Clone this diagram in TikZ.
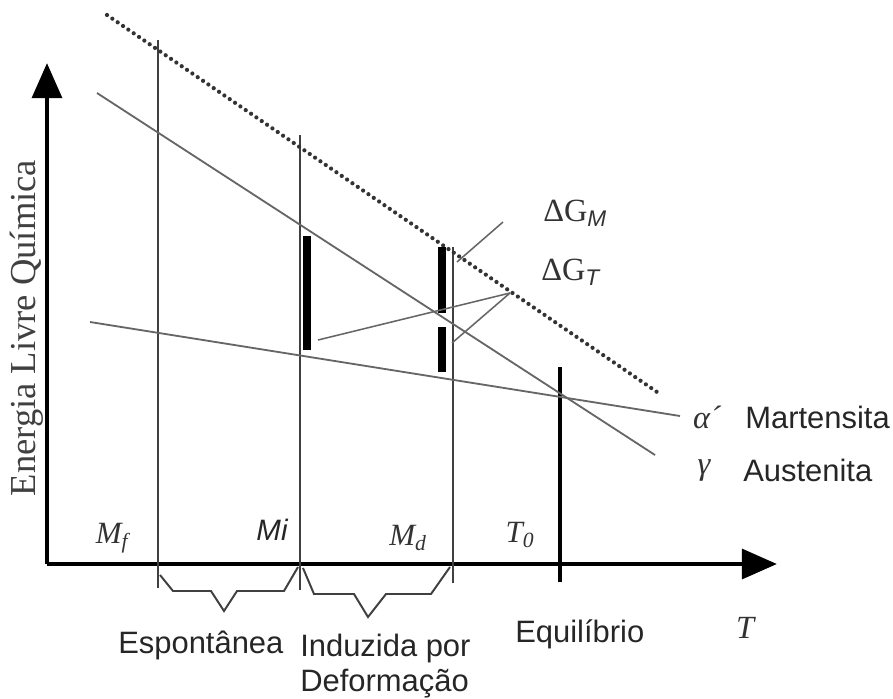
\documentclass[tikz,border=0pt]{standalone}
\usepackage{fontspec}
\setmainfont{Liberation Serif}
\setsansfont{Liberation Sans}
\usetikzlibrary{arrows.meta}

\begin{document}
\begin{tikzpicture}[
  x=0.025cm, y=-0.025cm,
  axis/.style={line width=3.5pt, -{Triangle[length=25pt, width=21pt]}},
  guide/.style={line width=1.8pt, black!75},
  phase/.style={line width=1.3pt, black!60},
  dotline/.style={line width=3pt, black!80, line cap=round, dash pattern=on 0pt off 4.6pt},
  bar/.style={line width=5pt},
  lead/.style={line width=1.1pt, black!60},
  brace/.style={line width=1.4pt, black!75},
  word/.style={font=\sffamily\fontsize{22}{25}\selectfont, inner sep=0pt, text=black!85},
  temp/.style={font=\fontsize{22}{25}\selectfont\itshape, inner sep=0pt, text=black!80},
  dg/.style={font=\fontsize{23}{26}\selectfont, anchor=west, inner sep=0pt, text=black!80}
]
\useasboundingbox (0,0) rectangle (893,698);

% axes
\coordinate (O) at (47,564);
\coordinate (ytop) at (47,63);
\coordinate (xend) at (777,564);
\draw[axis] (O) -- (ytop);
\draw[axis] (O) -- (xend);
\node[rotate=90, font=\fontsize{26}{30}\selectfont, inner sep=0pt, text=black!75] (elabel) at (27,328) {Energia Livre Química};
\node[temp, font=\fontsize{23}{26}\selectfont\itshape] (tlabel) at (745,628) {T};

% temperatures
\draw[guide] (158,40) -- (158,588);
\draw[guide] (300,135) -- (300,590);
\draw[guide] (453,247) -- (453,583);
\draw[line width=3pt] (560,367) -- (560,582);

\node[temp] (mf) at (112,538) {M\textsubscript{f}};
\node[font=\sffamily\itshape\fontsize{21}{24}\selectfont, inner sep=0pt, text=black!85] (mi) at (272,530) {Mi};
\node[temp] (md) at (408,538) {M\textsubscript{d}};
\node[temp] (t0) at (520,535) {T\textsubscript{0}};

% free energy lines
\draw[dotline] (107,15) -- (657,392);
\draw[phase] (97,93) -- (655,455);
\draw[phase] (90,322) -- (680,416);

\node[font=\fontsize{23}{26}\selectfont\itshape, inner sep=0pt, text=black!80] (alpha) at (707,417) {α´};
\node[word, anchor=west] (mart) at (745,417) {Martensita};
\node[font=\fontsize{23}{26}\selectfont\itshape, inner sep=0pt, text=black!80] (gamma) at (704,471) {γ};
\node[word, anchor=west] (aust) at (743,470) {Austenita};

% driving forces
\draw[bar] (307,236) -- (307,350);
\draw[bar] (442,247) -- (442,313);
\draw[bar] (442,327) -- (442,372);

\node[dg] (dgm) at (543,213) {ΔG\textsubscript{\sffamily\itshape M}};
\node[dg] (dgt) at (541,272) {ΔG\textsubscript{\sffamily\itshape T}};
\draw[lead] (503,222) -- (457,262);
\draw[lead] (510,293) -- (318,340);
\draw[lead] (510,293) -- (452,343);

% ranges
\draw[brace] (160,575) -- (173,591) -- (211,591) -- (224,611) -- (237,591) -- (284,591) -- (298,567);
\draw[brace] (303,568) -- (314,594) -- (354,594) -- (368,617) -- (386,594) -- (431,594) -- (450,567);

\node[word, anchor=west] (esp) at (118,645) {Espontânea};
\node[word, anchor=north west, align=left] (ind) at (300,634) {Induzida por\\Deformação};
\node[word, anchor=west] (equ) at (515,634) {Equilíbrio};
\end{tikzpicture}
\end{document}
